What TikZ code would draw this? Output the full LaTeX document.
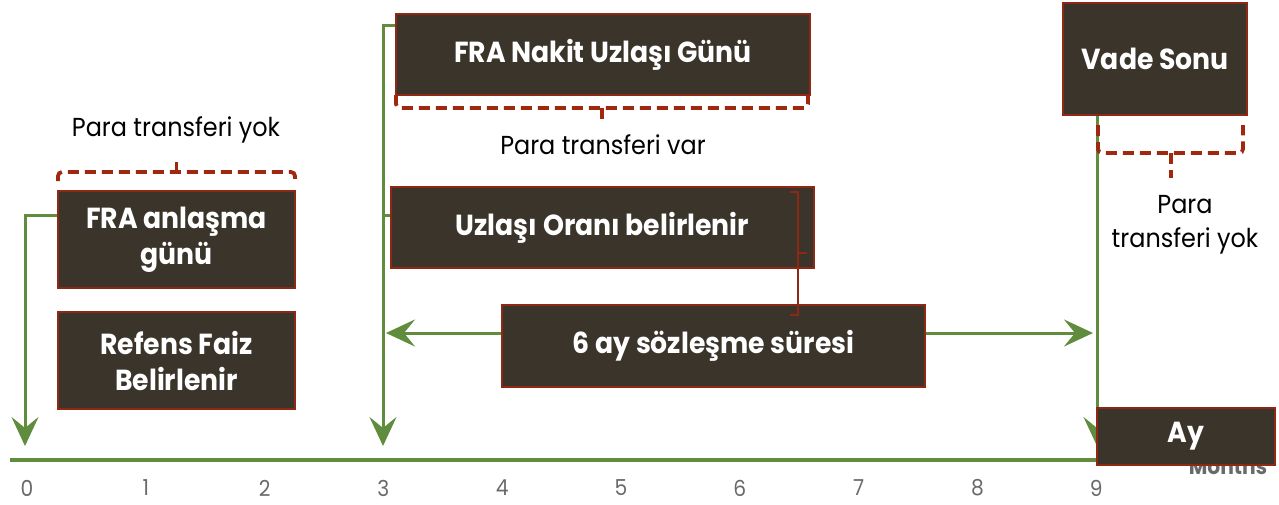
\documentclass[tikz,border=0pt]{standalone}
\usepackage{fontspec}
\setmainfont{Poppins}[FakeStretch=0.92]
\usetikzlibrary{arrows.meta}
\pgfdeclarelayer{background}
\pgfsetlayers{background,main}
\definecolor{boxfill}{RGB}{58,52,42}
\definecolor{boxline}{RGB}{140,40,20}
\definecolor{axisgreen}{RGB}{96,140,62}
\definecolor{bracketred}{RGB}{160,40,15}
\definecolor{tickgray}{RGB}{105,105,105}
\begin{document}
\begin{tikzpicture}[x=1pt,y=-1pt,>={Stealth[length=29pt,width=27pt,inset=11pt]}]
	\tikzstyle{every node}+=[inner sep=0pt]
	\tikzstyle{box}=[draw=boxline, line width=1.5pt, fill=boxfill, text=white, font=\fontsize{29}{36}\selectfont\bfseries, align=center]
	\tikzstyle{gline}=[draw=axisgreen, line width=3pt]
	\tikzstyle{garrow}=[gline, ->]
	\tikzstyle{dashbracket}=[draw=bracketred, line width=3.8pt, dash pattern=on 11pt off 6pt, rounded corners=4pt]
	\tikzstyle{note}=[font=\fontsize{26}{34}\selectfont, align=center]
	\tikzstyle{tick}=[text=tickgray, font=\fontsize{22}{26}\selectfont]
	\useasboundingbox (0,0) rectangle (1279,504);
	\node[box, minimum width=237pt, minimum height=97pt] (anl) at (176.5,239.5) {FRA anlaşma\\günü};
	\node[box, minimum width=237pt, minimum height=97pt] (ref) at (176.5,360.5) {Refens Faiz\\Belirlenir};
	\node[box, minimum width=414pt, minimum height=81pt] (nakit) at (603,54.5) {FRA Nakit Uzlaşı Günü};
	\node[box, minimum width=423pt, minimum height=81pt] (uzl) at (602.5,227.5) {Uzlaşı Oranı belirlenir};
	\node[box, minimum width=423pt, minimum height=82pt] (sure) at (713.5,346) {6 ay sözleşme süresi};
	\node[box, minimum width=184pt, minimum height=112pt] (vade) at (1155,59) {Vade Sonu};
	\node[box, minimum width=178pt, minimum height=57pt] (ay) at (1186,436.5) {Ay};
	\node[note] (yok1) at (176,130) {Para transferi yok};
	\node[note] (var) at (603,145) {Para transferi var};
	\node[note] (yok2) at (1185,225) {Para\\transferi yok};
	\foreach \i in {0,...,9}
		\node[tick] (n\i) at ({27+118.8*\i},488) {\i};
	\coordinate (s0) at (58,215);
	\coordinate (m0) at (25,446);
	\coordinate (s3) at (396,25);
	\coordinate (s3b) at (391,215);
	\coordinate (m3) at (383,446);
	\coordinate (s9) at (1097,115);
	\coordinate (m9) at (1097,446);
	\coordinate (l3) at (386,333);
	\coordinate (r9) at (1093,333);
	\coordinate (a0) at (10,460);
	\coordinate (aend) at (1150,460);
	\begin{pgfonlayer}{background}
	\node[text=tickgray, font=\fontsize{22}{26}\selectfont\bfseries] (months) at (1228,466) {Months};
	\draw[gline, line width=3.5pt] (a0) -- (aend);
	\draw[garrow] (s0) -| (m0);
	\draw[garrow] (s3) -| (m3);
	\draw[gline] (s3b) -- (s3b -| m3);
	\draw[garrow] (s9) -- (m9);
	\draw[gline, <->] (l3) -- (r9);
	\end{pgfonlayer}
	\draw[dashbracket] (58,181) -- (58,172) -- (295,172) -- (295,181);
	\draw[dashbracket] (176.5,172) -- (176.5,162);
	\draw[dashbracket] (396,95) -- (396,108) -- (808,108) -- (808,95);
	\draw[dashbracket] (602,108) -- (602,125);
	\draw[dashbracket] (1098,125) -- (1098,153) -- (1243,153) -- (1243,125);
	\draw[dashbracket] (1171,153) -- (1171,178);
	\draw[draw=boxline, line width=1.2pt] (790,192) -- (798,192) -- (798,315) -- (790,315);
	\draw[draw=boxline, line width=1.2pt] (798,253) -- (807,253);
\end{tikzpicture}
\end{document}
